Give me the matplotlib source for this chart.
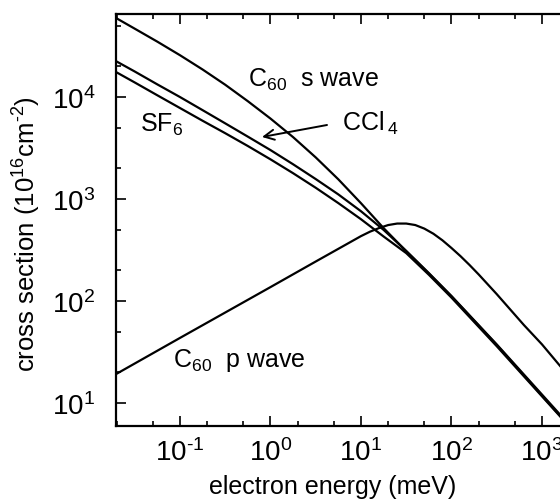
import matplotlib
matplotlib.use("Agg")
import matplotlib.pyplot as plt
from matplotlib.ticker import LogLocator, NullFormatter, FixedFormatter, FixedLocator

plt.rcParams['font.family'] = ['Liberation Sans', 'DejaVu Sans']
plt.rcParams['mathtext.fontset'] = 'custom'
plt.rcParams['mathtext.rm'] = 'Liberation Sans'
plt.rcParams['mathtext.it'] = 'Liberation Sans:italic'
plt.rcParams['mathtext.bf'] = 'Liberation Sans:bold'
plt.rcParams['axes.unicode_minus'] = False

# ---- data (energy in meV, cross section in 1e-16 cm^2) ----
s_energy = [0.0196, 0.0316, 0.0562, 0.1, 0.178, 0.316, 0.562, 1.0, 1.78, 3.16,
            5.62, 10.0, 17.8, 31.6, 56.2, 100.0, 316.0, 1585.0]
s_sigma = [59600, 46800, 34900, 25700, 18600, 13200, 9100, 6150, 4040, 2560,
           1560, 910, 518, 308, 186, 111, 37.1, 7.5]

ccl4_energy = [0.0196, 0.0316, 0.0562, 0.1, 0.178, 0.316, 0.562, 1.0, 1.78, 3.16,
               5.62, 10.0, 17.8, 31.6, 56.2, 100.0, 316.0, 1585.0]
ccl4_sigma = [22500, 17800, 13300, 10000, 7430, 5520, 4090, 3020, 2190, 1570,
              1110, 759, 498, 310, 188, 112, 37.6, 7.7]

sf6_energy = [0.0196, 0.0316, 0.0562, 0.1, 0.178, 0.316, 0.562, 1.0, 1.78, 3.16,
              5.62, 10.0, 17.8, 31.6, 56.2, 100.0, 316.0, 1585.0]
sf6_sigma = [17600, 13900, 10400, 7800, 5850, 4420, 3310, 2450, 1790, 1290,
             912, 634, 429, 295, 181, 108, 36.1, 7.4]

p_energy = [0.0196, 0.1, 1.0, 3.16, 10.0, 12.6, 15.8, 20.0, 25.1, 31.6, 39.8, 50.1, 63.1,
            79.4, 100.0, 126.0, 158.0, 200.0, 316.0, 631.0, 1000.0, 1585.0]
p_sigma = [19.2, 43.5, 137, 244, 433, 479, 519, 556, 575, 575, 556, 513, 457,
           394, 331, 275, 226, 182, 117, 58.2, 37.6, 23.1]

x_ticks = [0.1, 1, 10, 100, 1000]
x_tick_labels = [r'10$^{\text{-}1}$', r'10$^{0}$', r'10$^{1}$', r'10$^{2}$', r'10$^{3}$']
y_ticks = [10, 100, 1000, 10000]
y_tick_labels = [r'10$^{1}$', r'10$^{2}$', r'10$^{3}$', r'10$^{4}$']

# ---- figure ----
fig = plt.figure(figsize=(5.6, 5.02), dpi=100)
L, R, T, B = 116, 560, 15, 427
W, H = 560, 502
ax = fig.add_axes([L / W, 1 - B / H, (R - L) / W, (B - T) / H])

lw = 1.6
for e, s in [(s_energy, s_sigma), (ccl4_energy, ccl4_sigma), (sf6_energy, sf6_sigma), (p_energy, p_sigma)]:
    ax.plot(e, s, color='black', lw=lw, solid_joinstyle='round')

ax.set_xscale('log')
ax.set_yscale('log')
ax.set_xlim(10 ** -1.707, 10 ** 3.199)
ax.set_ylim(10 ** 0.775, 10 ** 4.814)

ax.xaxis.set_major_locator(FixedLocator(x_ticks))
ax.yaxis.set_major_locator(FixedLocator(y_ticks))
ax.xaxis.set_major_formatter(FixedFormatter(x_tick_labels))
ax.yaxis.set_major_formatter(FixedFormatter(y_tick_labels))
ax.xaxis.set_minor_locator(LogLocator(base=10, subs=(2.0, 5.0), numticks=20))
ax.yaxis.set_minor_locator(LogLocator(base=10, subs=(2.0, 5.0), numticks=20))
ax.xaxis.set_minor_formatter(NullFormatter())
ax.yaxis.set_minor_formatter(NullFormatter())

ax.tick_params(which='both', direction='in', top=True, right=False, width=1.2, colors='black')
ax.tick_params(which='major', length=7)
ax.tick_params(which='minor', length=3.5)
ax.tick_params(axis='x', which='major', labelsize=20, pad=9)
ax.tick_params(axis='y', which='major', labelsize=20, pad=15)

for sp in ['left', 'bottom', 'top']:
    ax.spines[sp].set_linewidth(1.6)
ax.spines['right'].set_visible(False)

ax.set_xlabel('electron energy (meV)', fontsize=18)
ax.set_ylabel(r'cross section (10$^{16}$cm$^{\text{-}2}$)', fontsize=18.5)
ax.xaxis.set_label_coords((333 - L) / (R - L), (B - 475) / (B - T))
ax.yaxis.set_label_coords((43 - L) / (R - L), (B - 234) / (B - T))
ax.xaxis.label.set_va('top')

def axpos(px, py):
    return ((px - L) / (R - L), (B - py) / (B - T))

fs = 18
ax.text(*axpos(248, 87), r'C$_{60}$  s wave', transform=ax.transAxes, fontsize=fs, va='baseline', ha='left')
ax.text(*axpos(342, 131), r'CCl$\,_{4}$', transform=ax.transAxes, fontsize=fs, va='baseline', ha='left')
ax.text(*axpos(140, 132), r'SF$_{6}$', transform=ax.transAxes, fontsize=fs, va='baseline', ha='left')
ax.text(*axpos(173, 367), r'C$_{60}$  p wave', transform=ax.transAxes, fontsize=fs, va='baseline', ha='left')
ax.annotate('', xy=axpos(262, 138), xytext=axpos(327, 126), xycoords='axes fraction',
            textcoords='axes fraction',
            arrowprops=dict(arrowstyle='->', lw=1.4, color='black', mutation_scale=18,
                            shrinkA=0, shrinkB=0))

fig.savefig('out.png', dpi=100, facecolor='white')
